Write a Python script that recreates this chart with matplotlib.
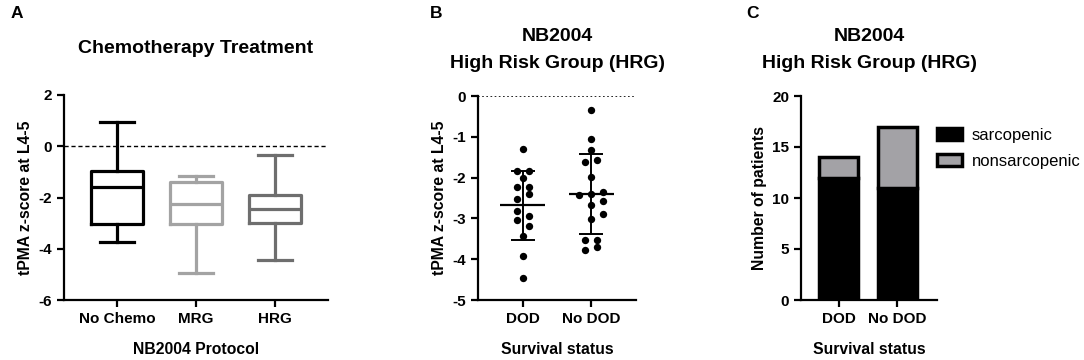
import numpy as np
import matplotlib
matplotlib.use("Agg")
import matplotlib.pyplot as plt

plt.rcParams['font.family'] = ['Liberation Sans', 'DejaVu Sans']
plt.rcParams['font.weight'] = 'bold'
plt.rcParams['axes.labelweight'] = 'bold'
plt.rcParams['axes.unicode_minus'] = False

# panel A - box plot summaries (min, q1, median, q3, max)
box_groups = ["No Chemo", "MRG", "HRG"]
box_lo = [-3.75, -4.95, -4.45]
box_q1 = [-3.05, -3.03, -3.0]
box_med = [-1.6, -2.25, -2.45]
box_q3 = [-0.95, -1.4, -1.9]
box_hi = [0.95, -1.15, -0.35]
box_colors = ["#000000", "#A3A3A3", "#6E6E6E"]

# panel B - individual tPMA z-scores
surv_groups = ["DOD", "No DOD"]
dod_vals = [-1.31, -1.85, -1.85, -2.02, -2.22, -2.22, -2.40, -2.52, -2.82,
            -2.95, -3.04, -3.19, -3.43, -3.93, -4.45]
nodod_vals = [-0.35, -1.05, -1.32, -1.62, -1.58, -1.98, -2.43, -2.39, -2.36,
              -2.57, -2.66, -2.88, -3.01, -3.52, -3.52, -3.77, -3.71]
# horizontal scatter offsets (swarm layout)
dod_dx = [0, -0.09, 0.09, 0, -0.09, 0.09, 0.09, -0.09, -0.09,
          0.09, -0.09, 0.09, 0, 0, 0]
nodod_dx = [0, 0, 0, -0.09, 0.09, 0, -0.18, 0, 0.18,
            0.18, 0, 0.18, 0, -0.09, 0.09, -0.09, 0.09]

# panel C - counts
sarco = [12, 11]
nonsarco = [2, 6]

W, H = 1084, 360
fig = plt.figure(figsize=(W / 100, H / 100), dpi=100)


def add_ax(left, right, top, bottom):
    return fig.add_axes([left / W, (H - bottom) / H, (right - left) / W, (bottom - top) / H])


def style(ax):
    for s in ["top", "right"]:
        ax.spines[s].set_visible(False)
    for s in ["left", "bottom"]:
        ax.spines[s].set_linewidth(1.6)
    ax.tick_params(width=1.6, length=5, labelsize=11)
    for lab in ax.get_xticklabels() + ax.get_yticklabels():
        lab.set_fontweight('bold')


# ---- A ----
axA = add_ax(64, 328, 95, 300)
stats = []
for i in range(3):
    stats.append(dict(whislo=box_lo[i], q1=box_q1[i], med=box_med[i],
                      q3=box_q3[i], whishi=box_hi[i], fliers=[]))
bp = axA.bxp(stats, positions=range(3), widths=0.66, capwidths=0.44,
             showfliers=False, patch_artist=False)
for i, c in enumerate(box_colors):
    for key in ["boxes", "medians"]:
        bp[key][i].set_color(c)
        bp[key][i].set_linewidth(2.3)
    for key in ["whiskers", "caps"]:
        for j in (2 * i, 2 * i + 1):
            bp[key][j].set_color(c)
            bp[key][j].set_linewidth(2.3)
axA.axhline(0, color="black", ls=(0, (3, 2)), lw=1)
axA.set_xlim(-0.67, 2.67)
axA.set_ylim(-6, 2)
axA.set_yticks([2, 0, -2, -4, -6])
axA.set_xticks(range(3))
axA.set_xticklabels(box_groups)
axA.set_ylabel("tPMA z-score at L4-5", fontsize=11.3)
axA.set_xlabel("NB2004 Protocol", fontsize=11.3, labelpad=12)
axA.set_title("Chemotherapy Treatment", fontsize=14, fontweight='bold', pad=30)
style(axA)
fig.text(11 / W, 1 - 13 / H, "A", fontsize=12.5, fontweight='bold', va='center')

# ---- B ----
axB = add_ax(478, 636, 96, 300)
for i, (vals, dx) in enumerate([(dod_vals, dod_dx), (nodod_vals, nodod_dx)]):
    v = np.array(vals)
    axB.scatter(i + np.array(dx), v, s=28, color="black", zorder=3, linewidths=0)
    m = v.mean()
    sd = v.std(ddof=1)
    axB.hlines(m, i - 0.33, i + 0.33, color="black", lw=1.6)
    axB.vlines(i, m - sd, m + sd, color="black", lw=1.4)
    axB.hlines([m - sd, m + sd], i - 0.17, i + 0.17, color="black", lw=1.4)
axB.axhline(0, color="black", ls=(0, (1, 1.5)), lw=1.2)
axB.set_xlim(-0.66, 1.66)
axB.set_ylim(-5, 0)
axB.set_yticks([0, -1, -2, -3, -4, -5])
axB.set_xticks(range(2))
axB.set_xticklabels(surv_groups)
axB.set_ylabel("tPMA z-score at L4-5", fontsize=11.3)
axB.set_xlabel("Survival status", fontsize=11.3, labelpad=12)
axB.set_title("NB2004\nHigh Risk Group (HRG)", fontsize=14, fontweight='bold',
              pad=20, linespacing=1.8)
style(axB)
fig.text(430 / W, 1 - 13 / H, "B", fontsize=12.5, fontweight='bold', va='center')

# ---- C ----
axC = add_ax(801, 937, 96, 300)
x = np.arange(2)
axC.bar(x, sarco, width=0.67, color="black", edgecolor="black", lw=2.5,
        label="sarcopenic")
axC.bar(x, nonsarco, bottom=sarco, width=0.67, color="#A3A2A6",
        edgecolor="black", lw=2.5, label="nonsarcopenic")
axC.set_xlim(-0.65, 1.68)
axC.set_ylim(0, 20)
axC.set_yticks([0, 5, 10, 15, 20])
axC.set_xticks(x)
axC.set_xticklabels(surv_groups)
axC.set_ylabel("Number of patients", fontsize=11.3)
axC.set_xlabel("Survival status", fontsize=11.3, labelpad=12)
axC.set_title("NB2004\nHigh Risk Group (HRG)", fontsize=14, fontweight='bold',
              pad=20, linespacing=1.8)
style(axC)
leg = axC.legend(loc="upper left", bbox_to_anchor=(1.0, 0.845), frameon=False,
                 prop={'weight': 'normal', 'size': 12}, handlelength=1.5,
                 handleheight=0.8, handletextpad=0.6, labelspacing=0.65,
                 borderaxespad=0, borderpad=0)
fig.text(746 / W, 1 - 13 / H, "C", fontsize=12.5, fontweight='bold', va='center')

fig.savefig("out.png", dpi=100)
